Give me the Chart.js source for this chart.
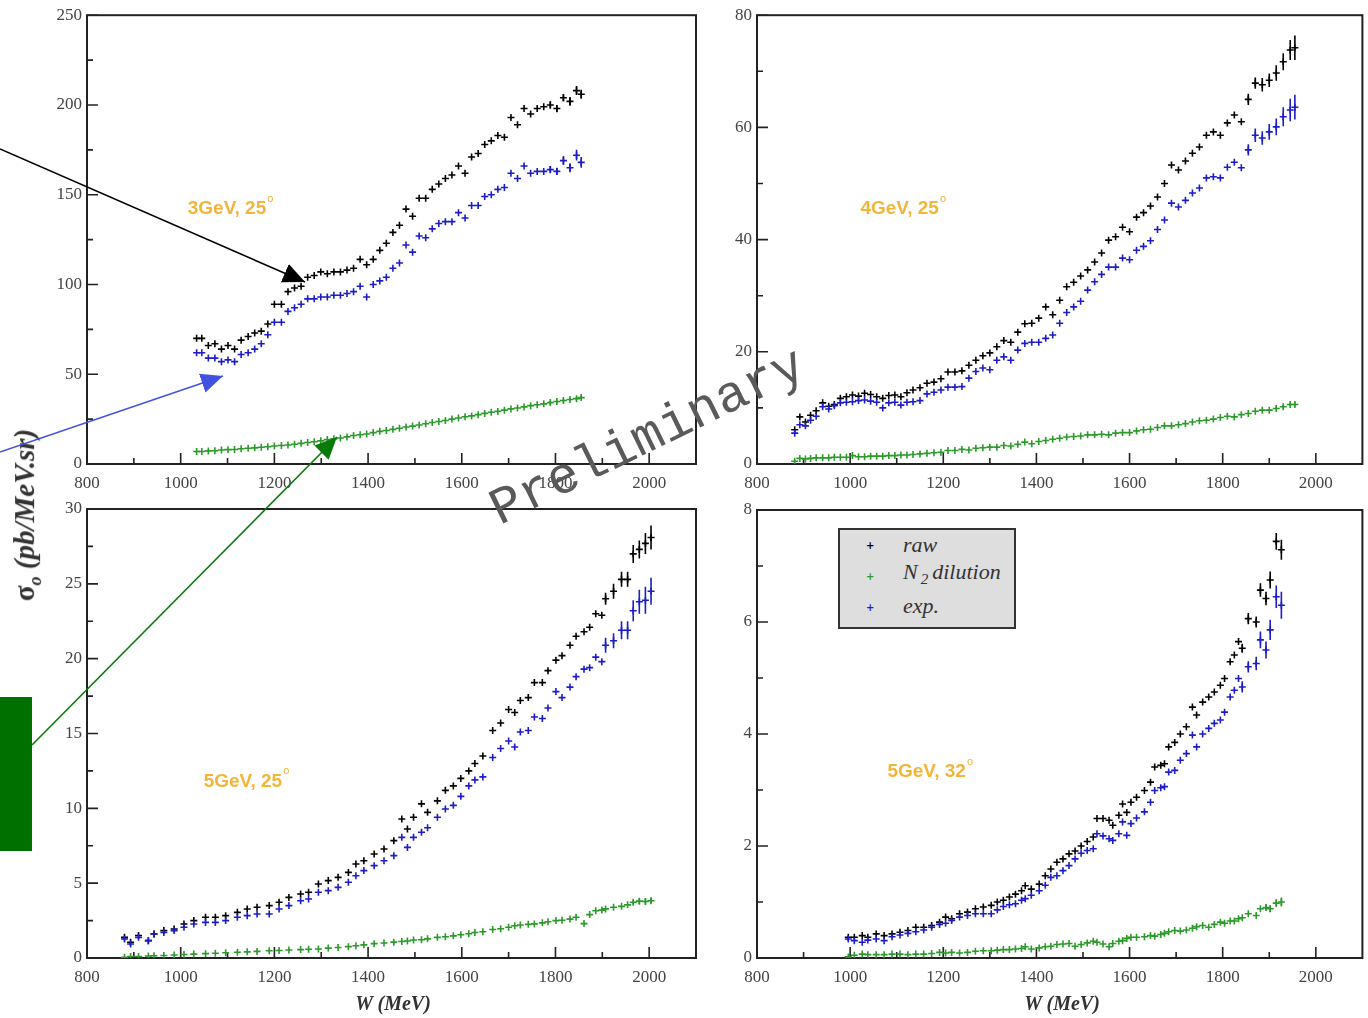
<!DOCTYPE html>
<html>
<head>
<meta charset="utf-8">
<script src="https://cdn.jsdelivr.net/npm/chart.js@4.4.1/dist/chart.umd.min.js"></script>
<style>
  html, body { margin: 0; padding: 0; background: #fff; }
  #page { position: relative; width: 1368px; height: 1018px; overflow: hidden; background: #fff; }
  #page canvas { position: absolute; left: 0; top: 0; }
  #notes { position: absolute; left: 0; top: 0; }
  .title { position: absolute; transform: translate(-50%, -50%); white-space: nowrap;
           font: bold italic 20px "Liberation Serif", serif; color: #333; }
  #ytitle { transform: translate(-50%, -50%) rotate(-90deg); font-size: 29px; }
  #ytitle .sig { font-style: normal; }
  #ytitle sub { font-size: 18px; }
  #legend { position: absolute; left: 838px; top: 528px; width: 178px; height: 101px; box-sizing: border-box;
            background: #dedede; border: 2px solid #333; }
  #legend .mk { position: absolute; left: 26px; font: bold 10px "DejaVu Sans", sans-serif; transform: translateY(-50%); }
  #legend .tx { position: absolute; left: 63px; transform: translateY(-50%); white-space: nowrap;
                font: italic 22px "Liberation Serif", serif; color: #333; }
  #legend sub { font-size: 15px; margin: 0 4px 0 3px; }
</style>
</head>
<body>
<div id="page">
  <canvas id="tl" width="1368" height="1018"></canvas>
  <canvas id="tr" width="1368" height="1018"></canvas>
  <canvas id="bl" width="1368" height="1018"></canvas>
  <canvas id="br" width="1368" height="1018"></canvas>

  <div id="legend">
    <span class="mk" style="top:15px;color:#000">+</span><span class="tx" style="top:15px">raw</span>
    <span class="mk" style="top:46px;color:#2b9a2b">+</span><span class="tx" style="top:44px">N<sub>2</sub>dilution</span>
    <span class="mk" style="top:77px;color:#1c1cc8">+</span><span class="tx" style="top:76px">exp.</span>
  </div>

  <div class="title" id="ytitle" style="left:27px; top:515px"><span class="sig">σ</span><sub>o</sub> (pb/MeV.sr)</div>
  <div class="title" style="left:393px; top:1003px">W (MeV)</div>
  <div class="title" style="left:1062px; top:1003px">W (MeV)</div>

  <svg id="notes" width="1368" height="1018">
    <defs>
      <marker id="headK" markerUnits="userSpaceOnUse" markerWidth="24" markerHeight="20" refX="22" refY="10" orient="auto">
        <path d="M0,0 L22,10 L0,20 z" fill="#000"/>
      </marker>
      <marker id="headB" markerUnits="userSpaceOnUse" markerWidth="24" markerHeight="20" refX="22" refY="10" orient="auto">
        <path d="M0,0 L22,10 L0,20 z" fill="#4152e0"/>
      </marker>
      <marker id="headG" markerUnits="userSpaceOnUse" markerWidth="24" markerHeight="20" refX="22" refY="10" orient="auto">
        <path d="M0,0 L22,10 L0,20 z" fill="#0a7a0a"/>
      </marker>
    </defs>
    <rect x="0" y="697" width="32" height="154" fill="#007100"/>
    <line x1="0" y1="149" x2="305" y2="282" stroke="#000" stroke-width="1.6" marker-end="url(#headK)"/>
    <line x1="0" y1="452" x2="223" y2="376" stroke="#4152e0" stroke-width="1.6" marker-end="url(#headB)"/>
    <line x1="32" y1="745" x2="337" y2="437" stroke="#0a7a0a" stroke-width="1.6" marker-end="url(#headG)"/>
    <text x="654" y="450" text-anchor="middle" transform="rotate(-26 654 450)"
          font-family="Liberation Mono, monospace" font-size="52" fill="#5a5a5a">Preliminary</text>
  </svg>
</div>

<script>
// W axis ticks shared by all panels
const xTicks = [800, 1000, 1200, 1400, 1600, 1800, 2000]
const xMinor = [900, 1100, 1300, 1500, 1700, 1900]

// 3 GeV, 25 deg
const wTL = [1034,1045,1059,1073,1087,1101,1115,1129,1144,1158,1172,1186,1200,1215,1229,1243,1257,1271,1285,1299,
  1313,1327,1341,1355,1369,1383,1397,1411,1425,1439,1453,1467,1481,1495,1509,1523,1537,1551,1565,1579,
  1593,1607,1621,1635,1649,1663,1677,1691,1705,1719,1733,1747,1761,1775,1789,1803,1817,1831,1845,1855]
const rawTL = [70,70,66,67,64,66,64,69,71,73,74,78,89,89,96,98,99,104,105,107,
  106,107,107,108,109,114,111,114,119,123,129,133,142,138,148,148,153,156,159,161,
  166,162,171,173,178,180,183,182,193,189,198,195,198,199,200,198,204,202,208,206]
const expTL = [62,62,59,59,57,58,57,61,62,64,67,72,79,79,85,87,89,92,92,93,
  93,94,94,95,96,99,93,100,102,104,109,112,122,118,127,126,131,134,135,135,
  140,137,144,144,149,150,153,154,162,159,166,162,163,163,164,163,169,165,172,168]
const n2TL = [7,7,7.3,7.4,7.8,8,8.1,8.5,8.8,9,9.3,9.6,10,10.3,10.6,11,11.5,12,12.4,12.9,
  13.6,14,14.5,15.1,15.9,16.3,16.7,17.5,18.2,18.7,19.3,19.9,20.6,21.1,21.7,22.4,23.1,23.7,24.2,25,
  25.6,26.3,26.8,27.5,28.2,28.8,29.3,30,30.7,31.2,31.8,32.5,33,33.5,34.2,34.8,35.4,35.9,36.4,37]
const yTicksTL = [0, 50, 100, 150, 200, 250]

// 4 GeV, 25 deg
const wTR = [881,892,904,915,927,941,954,966,979,992,1005,1018,1031,1044,1057,1070,1083,1096,1109,1122,
  1135,1150,1165,1180,1195,1210,1225,1240,1255,1270,1285,1300,1315,1330,1345,1360,1375,1390,1405,1420,
  1435,1450,1465,1480,1495,1510,1525,1540,1555,1570,1585,1600,1615,1630,1645,1660,1675,1690,1705,1720,
  1735,1750,1765,1780,1795,1810,1825,1840,1855,1870,1885,1900,1915,1930,1945,1955]
const rawTR = [6.1,8.4,7.5,8.7,9.5,10.9,10.3,10.6,11.7,12.0,12.3,12.1,12.6,12.4,12.0,11.7,12.2,12.3,12.0,12.7,
  13.2,13.6,14.4,14.6,15.2,16.4,16.4,16.6,17.6,18.5,19.3,19.8,20.9,22.0,21.7,23.5,25.0,25.1,26.0,28.0,
  26.6,29.2,31.6,32.4,33.5,34.6,36.0,37.6,39.9,40.5,42.2,41.4,44.0,44.8,46.0,47.6,50.0,53.3,52.4,54.0,
  55.4,56.5,58.6,59.2,58.6,60.8,62.2,61.0,65.0,67.9,67.6,68.4,69.7,71.7,73.8,74.2]
const expTR = [5.5,7.0,6.8,7.8,8.5,10.2,9.8,10.4,10.9,11.0,11.1,11.3,11.4,11.2,11.0,10.0,10.9,11.0,10.5,11.0,
  11.1,11.3,12.5,12.8,13.2,13.7,13.7,13.8,15.3,16.5,17.1,16.8,18.5,19.1,18.5,20.3,21.5,21.7,21.7,22.4,
  23.0,25.1,27.0,28.0,29.0,31.0,32.5,33.8,35.1,35.1,36.7,36.4,38.1,38.8,39.8,41.8,43.5,46.5,45.8,47.0,
  48.3,49.2,51.0,51.2,51.0,52.9,53.8,52.8,56.0,58.6,58.1,59.2,60.1,61.9,63.1,63.6]
const n2TR = [0.5,1.0,0.9,1.0,1.1,1.1,1.1,1.2,1.2,1.2,1.5,1.3,1.3,1.4,1.4,1.4,1.5,1.5,1.6,1.6,
  1.7,1.8,1.9,2.0,2.1,2.4,2.4,2.6,2.5,2.8,2.9,3.0,3.0,3.3,3.2,3.5,3.9,3.6,4.0,4.2,
  4.4,4.6,4.8,4.9,5.0,5.2,5.2,5.3,5.2,5.5,5.6,5.6,5.9,6.1,6.2,6.5,6.8,6.8,7.0,7.2,
  7.5,7.7,7.8,8.0,8.3,8.5,8.4,8.8,9.0,9.4,9.6,9.6,9.9,10.2,10.6,10.6]
const yTicksTR = [0, 20, 40, 60, 80]

// 5 GeV, 25 deg
const wBL = [880,893,910,931,943,964,986,1007,1028,1053,1074,1096,1121,1142,1163,1189,1210,1231,1256,1273,
  1294,1315,1336,1358,1374,1391,1413,1434,1455,1472,1484,1497,1514,1527,1548,1565,1582,1598,1615,1628,
  1645,1666,1683,1700,1713,1725,1742,1755,1772,1784,1801,1814,1831,1844,1861,1873,1886,1899,1907,1924,
  1941,1954,1966,1979,1992,2004]
const rawBL = [1.38,1.05,1.5,1.16,1.6,1.83,1.94,2.27,2.5,2.72,2.72,2.83,3.05,3.27,3.39,3.5,3.72,4.05,4.28,4.39,
  4.94,5.17,5.39,5.72,6.28,6.5,6.95,7.28,7.84,9.29,8.62,9.4,10.3,9.73,10.5,11.2,11.5,12.0,12.5,13.0,
  13.5,15.2,15.7,16.6,16.4,17.2,17.4,18.4,18.4,19.2,19.9,20.2,20.9,21.5,21.8,22.1,23.0,22.9,24.0,24.5,
  25.3,25.3,27.0,27.3,27.7,28.1]
const expBL = [1.27,0.94,1.38,1.16,1.6,1.7,1.83,2.05,2.27,2.38,2.38,2.5,2.72,2.83,2.94,2.94,3.27,3.5,3.83,3.94,
  4.39,4.5,4.72,5.06,5.5,5.84,6.17,6.5,6.84,8.06,7.39,8.06,8.4,8.7,9.4,9.96,10.2,10.8,11.5,11.9,
  12.1,13.4,14.0,14.5,14.1,15.1,15.2,16.1,16.0,16.7,17.8,17.4,18.1,18.8,19.3,19.4,20.1,19.8,20.9,21.2,
  21.9,21.9,23.2,23.8,23.9,24.5]
const n2BL = [0.05,0.1,0.1,0.13,0.15,0.17,0.2,0.23,0.26,0.29,0.32,0.35,0.38,0.41,0.44,0.48,0.5,0.53,0.56,0.58,
  0.6,0.66,0.7,0.76,0.82,0.88,0.96,1.0,1.06,1.1,1.14,1.2,1.22,1.28,1.38,1.42,1.48,1.55,1.62,1.7,
  1.75,1.9,1.95,2.05,2.15,2.2,2.25,2.28,2.35,2.42,2.5,2.52,2.6,2.72,2.3,2.9,3.16,3.2,3.28,3.39,
  3.45,3.55,3.72,3.8,3.78,3.83]
const yTicksBL = [0, 5, 10, 15, 20, 25, 30]

// 5 GeV, 32 deg
const wBR = [996,1009,1026,1038,1056,1073,1090,1107,1124,1141,1158,1175,1192,1205,1218,1235,1252,1269,1286,1303,
  1316,1329,1342,1355,1368,1376,1389,1406,1419,1431,1444,1457,1470,1483,1496,1509,1522,1530,1543,1556,
  1564,1577,1585,1594,1603,1615,1632,1645,1654,1667,1675,1684,1697,1709,1722,1735,1744,1757,1770,1782,
  1795,1804,1816,1825,1834,1842,1855,1872,1881,1893,1902,1915,1926]
const rawBR = [0.37,0.37,0.40,0.37,0.43,0.40,0.43,0.46,0.49,0.55,0.55,0.58,0.64,0.73,0.70,0.79,0.82,0.88,0.91,0.94,
  1.0,1.03,1.09,1.14,1.2,1.29,1.23,1.32,1.47,1.59,1.71,1.77,1.86,1.91,2.0,2.08,2.16,2.49,2.49,2.46,
  2.37,2.55,2.75,2.6,2.78,2.87,2.99,3.14,3.41,3.44,3.47,3.77,3.85,4.0,4.13,4.48,4.34,4.57,4.66,4.75,
  4.87,4.99,5.29,5.41,5.65,5.53,6.06,6.0,6.57,6.42,6.75,7.44,7.29]
const expBR = [0.34,0.31,0.28,0.32,0.34,0.31,0.38,0.41,0.44,0.47,0.5,0.55,0.6,0.62,0.67,0.73,0.76,0.79,0.79,0.79,
  0.86,0.92,0.95,0.97,1.03,1.06,1.12,1.2,1.3,1.44,1.47,1.56,1.65,1.77,1.87,1.92,1.95,2.22,2.18,2.13,
  2.10,2.22,2.43,2.19,2.4,2.5,2.61,2.78,2.99,3.04,3.06,3.32,3.35,3.53,3.65,3.98,3.77,4.0,4.1,4.19,
  4.25,4.39,4.66,4.78,4.99,4.84,5.2,5.26,5.68,5.5,5.86,6.45,6.3]
const n2BR = [0.02,0.05,0.07,0.06,0.06,0.06,0.07,0.07,0.06,0.07,0.07,0.08,0.1,0.09,0.1,0.09,0.1,0.12,0.13,0.13,
  0.14,0.15,0.15,0.16,0.17,0.2,0.16,0.18,0.2,0.21,0.24,0.25,0.26,0.21,0.24,0.27,0.3,0.28,0.25,0.2,
  0.26,0.3,0.31,0.35,0.37,0.37,0.38,0.4,0.39,0.42,0.44,0.47,0.49,0.48,0.5,0.53,0.56,0.58,0.55,0.6,
  0.64,0.62,0.66,0.66,0.7,0.72,0.79,0.76,0.88,0.9,0.88,0.98,1.0]
const yTicksBR = [0, 2, 4, 6, 8]

// vertical error bars on the last points of each series
const errTL = { raw: [2, 2, 2, 2.5, 2.5, 2.5], exp: [2, 2, 2.5, 2.5, 3, 3], n2: [1, 1, 1, 1, 1, 1] }
const errTR = { raw: [1.0, 1.0, 1.2, 1.2, 1.4, 1.5, 1.8, 2.2], exp: [1.0, 1.2, 1.2, 1.4, 1.5, 1.7, 2.0, 2.2], n2: [0.3, 0.3, 0.3, 0.4] }
const errBL = { raw: [0.4, 0.5, 0.5, 0.5, 0.6, 0.6, 0.7, 0.8], exp: [0.5, 0.5, 0.6, 0.6, 0.7, 0.8, 0.9, 0.9], n2: [0.15, 0.2, 0.2, 0.2] }
const errBR = { raw: [0.08, 0.1, 0.1, 0.12, 0.12, 0.15, 0.15, 0.18], exp: [0.1, 0.1, 0.12, 0.15, 0.15, 0.18, 0.2, 0.24], n2: [0.05, 0.06, 0.07, 0.08] }

const RAW = "#000000", EXP = "#1c1cc8", N2 = "#2b9a2b"

const frame = {
  id: "frame",
  beforeDatasetsDraw(chart, args, opts) {
    const {ctx, chartArea: a, scales: {x, y}} = chart
    ctx.save()
    ctx.strokeStyle = "#222"
    ctx.lineWidth = 1.6
    ctx.beginPath()
    xTicks.forEach(v => { const p = x.getPixelForValue(v); ctx.moveTo(p, a.bottom); ctx.lineTo(p, a.bottom - 11) })
    xMinor.forEach(v => { const p = x.getPixelForValue(v); ctx.moveTo(p, a.bottom); ctx.lineTo(p, a.bottom - 6) })
    const yt = opts.yTicks
    yt.forEach((v, i) => {
      const p = y.getPixelForValue(v)
      ctx.moveTo(a.left, p); ctx.lineTo(a.left + 11, p)
      if (i < yt.length - 1) {
        const m = y.getPixelForValue((v + yt[i + 1]) / 2)
        ctx.moveTo(a.left, m); ctx.lineTo(a.left + 6, m)
      }
    })
    ctx.stroke()
    ctx.lineWidth = 2
    ctx.strokeRect(a.left, a.top, a.right - a.left, a.bottom - a.top)

    // beam energy / angle tag
    const tx = x.getPixelForValue(opts.tagAt[0])
    const ty = y.getPixelForValue(opts.tagAt[1])
    ctx.fillStyle = "#f3b43a"
    ctx.textBaseline = "middle"
    ctx.font = "bold 19px 'Liberation Sans', Arial, sans-serif"
    ctx.fillText(opts.tag, tx, ty)
    const w = ctx.measureText(opts.tag).width
    ctx.font = "11px 'Liberation Sans', Arial, sans-serif"
    ctx.fillText("o", tx + w + 1, ty - 10)
    ctx.restore()
  },
  afterDatasetsDraw(chart) {
    const {ctx, scales: {y}} = chart
    ctx.save()
    chart.data.datasets.forEach((ds, i) => {
      if (!ds.errors) return
      const meta = chart.getDatasetMeta(i)
      const off = ds.data.length - ds.errors.length
      ctx.strokeStyle = ds.borderColor
      ctx.lineWidth = 1.6
      ctx.beginPath()
      ds.errors.forEach((e, j) => {
        const pt = meta.data[off + j]
        const v = ds.data[off + j].y
        ctx.moveTo(pt.x, y.getPixelForValue(v + e))
        ctx.lineTo(pt.x, y.getPixelForValue(v - e))
      })
      ctx.stroke()
    })
    ctx.restore()
  }
}

function series(w, vals, color, errors) {
  return {
    data: w.map((x, i) => ({x, y: vals[i]})),
    errors,
    borderColor: color,
    backgroundColor: color,
    pointStyle: "cross",
    pointRadius: 3.5,
    borderWidth: 1.6
  }
}

function panel(id, area, w, raw, exp, n2, err, yTicks, tag, tagAt) {
  const [L, T, R, B] = area
  const tickFont = { family: "'Liberation Serif', serif", size: 17 }
  return new Chart(document.getElementById(id), {
    type: "scatter",
    data: {
      datasets: [
        series(w, exp, EXP, err.exp),
        series(w, raw, RAW, err.raw),
        series(w, n2, N2, err.n2)
      ]
    },
    options: {
      responsive: false,
      animation: false,
      events: [],
      layout: { padding: { left: 0, top: T, right: 1368 - R, bottom: 0 } },
      plugins: {
        legend: { display: false },
        tooltip: { enabled: false },
        frame: { yTicks, tag, tagAt }
      },
      scales: {
        x: {
          type: "linear", min: 800, max: 2100,
          afterFit: s => { s.height = 1018 - B },
          afterBuildTicks: s => { s.ticks = xTicks.map(v => ({value: v})) },
          grid: { display: false, drawTicks: false },
          border: { display: false },
          ticks: { font: tickFont, color: "#444", padding: 9, maxRotation: 0, callback: v => String(v) }
        },
        y: {
          type: "linear", min: 0, max: yTicks[yTicks.length - 1],
          afterFit: s => { s.width = L },
          afterBuildTicks: s => { s.ticks = yTicks.map(v => ({value: v})) },
          grid: { display: false, drawTicks: false },
          border: { display: false },
          ticks: { font: tickFont, color: "#444", padding: 5, callback: v => String(v) }
        }
      }
    },
    plugins: [frame]
  })
}

panel("tl", [87, 14, 696, 464], wTL, rawTL, expTL, n2TL, errTL, yTicksTL, "3GeV, 25", [1015, 142])
panel("tr", [757, 15, 1365, 464], wTR, rawTR, expTR, n2TR, errTR, yTicksTR, "4GeV, 25", [1022, 45.5])
panel("bl", [87, 509, 696, 958], wBL, rawBL, expBL, n2BL, errBL, yTicksBL, "5GeV, 25", [1049, 11.8])
panel("br", [757, 510, 1365, 958], wBR, rawBR, expBR, n2BR, errBR, yTicksBR, "5GeV, 32", [1080, 3.33])
</script>
</body>
</html>
